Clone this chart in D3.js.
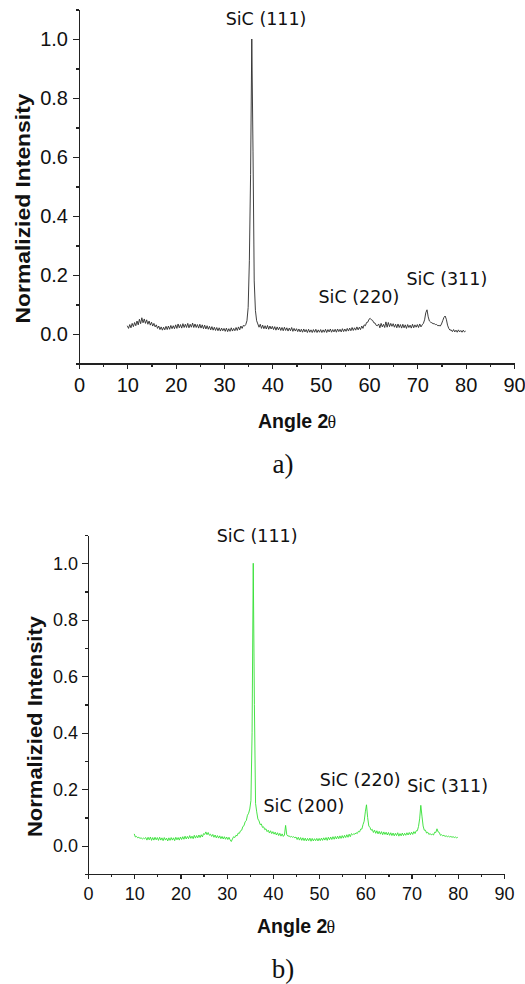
<!DOCTYPE html>
<html>
<head>
<meta charset="utf-8">
<script src="https://cdn.jsdelivr.net/npm/d3@7"></script>
<style>
  body { margin: 0; background: #fff; }
  .axis path, .axis line { stroke: #222; stroke-width: 1.2; shape-rendering: crispEdges; }
  .axis text { fill: #111; font-family: "Liberation Sans", Arial, sans-serif; }
  .peak-label { font-family: "DejaVu Sans", Verdana, sans-serif; fill: #111; }
</style>
</head>
<body>
<svg id="fig" width="525" height="984"></svg>
<script>

// sampling of the scans, degrees 2theta
var angleStart = 10, angleStep = 0.25;

// a) normalized intensity, 10 .. 80 deg, one row per 5 deg
var intensityA = [
  0.028,0.019,0.032,0.021,0.036,0.025,0.039,0.028,0.044,0.031,0.050,0.035,0.055,0.038,0.051,0.036,0.048,0.033,0.044,0.030,
  0.040,0.027,0.036,0.024,0.031,0.019,0.027,0.015,0.024,0.013,0.023,0.014,0.026,0.015,0.027,0.016,0.029,0.018,0.028,0.018,
  0.031,0.019,0.034,0.021,0.032,0.020,0.035,0.022,0.033,0.022,0.036,0.021,0.033,0.023,0.037,0.022,0.034,0.022,0.032,0.020,
  0.033,0.020,0.031,0.018,0.030,0.017,0.028,0.016,0.026,0.014,0.025,0.013,0.023,0.012,0.022,0.011,0.021,0.010,0.020,0.011,
  0.019,0.009,0.020,0.008,0.018,0.009,0.021,0.010,0.019,0.011,0.022,0.012,0.024,0.014,0.027,0.019,0.029,0.027,0.032,0.045,
  0.090,0.250,0.540,1.000,0.620,0.180,0.080,0.045,0.034,0.023,0.033,0.019,0.030,0.018,0.028,0.017,0.029,0.016,0.027,0.017,
  0.026,0.015,0.025,0.013,0.024,0.014,0.023,0.012,0.022,0.011,0.023,0.012,0.021,0.010,0.020,0.011,0.022,0.009,0.019,0.010,
  0.018,0.008,0.017,0.007,0.016,0.006,0.017,0.007,0.015,0.005,0.016,0.006,0.014,0.005,0.015,0.006,0.016,0.005,0.014,0.006,
  0.015,0.005,0.014,0.006,0.016,0.005,0.015,0.007,0.017,0.006,0.015,0.007,0.016,0.006,0.017,0.008,0.016,0.007,0.018,0.008,
  0.017,0.009,0.019,0.010,0.020,0.011,0.022,0.012,0.021,0.013,0.024,0.014,0.023,0.015,0.027,0.019,0.031,0.028,0.039,0.040,
  0.050,0.053,0.048,0.046,0.038,0.037,0.029,0.028,0.034,0.021,0.036,0.024,0.033,0.022,0.041,0.023,0.039,0.025,0.036,0.026,
  0.035,0.023,0.033,0.021,0.034,0.022,0.032,0.020,0.033,0.021,0.031,0.019,0.032,0.022,0.030,0.020,0.033,0.021,0.031,0.023,
  0.032,0.022,0.034,0.024,0.031,0.036,0.048,0.072,0.082,0.058,0.044,0.040,0.038,0.035,0.035,0.032,0.032,0.028,0.029,0.027,
  0.034,0.045,0.056,0.061,0.050,0.030,0.019,0.013,0.014,0.008,0.015,0.007,0.013,0.006,0.014,0.007,0.012,0.006,0.013,0.007,
  0.010
];

// b) normalized intensity, same angles
var intensityB = [
  0.042,0.031,0.033,0.028,0.030,0.026,0.028,0.024,0.027,0.025,0.029,0.020,0.030,0.021,0.031,0.019,0.029,0.020,0.030,0.021,
  0.029,0.019,0.030,0.020,0.028,0.018,0.029,0.020,0.027,0.017,0.028,0.019,0.029,0.020,0.028,0.018,0.030,0.021,0.029,0.020,
  0.031,0.022,0.032,0.023,0.034,0.024,0.033,0.025,0.036,0.026,0.034,0.025,0.037,0.027,0.036,0.028,0.038,0.029,0.039,0.031,
  0.043,0.040,0.049,0.039,0.047,0.037,0.041,0.033,0.040,0.030,0.038,0.028,0.036,0.027,0.035,0.025,0.033,0.024,0.032,0.023,
  0.031,0.022,0.030,0.021,0.015,0.024,0.032,0.029,0.037,0.035,0.045,0.044,0.053,0.055,0.068,0.071,0.085,0.089,0.108,0.115,
  0.130,0.160,0.400,1.000,0.500,0.150,0.120,0.095,0.088,0.075,0.077,0.065,0.067,0.057,0.060,0.050,0.055,0.045,0.053,0.043,
  0.050,0.041,0.048,0.038,0.046,0.036,0.044,0.034,0.042,0.033,0.038,0.072,0.039,0.034,0.035,0.031,0.033,0.030,0.032,0.028,
  0.031,0.022,0.030,0.020,0.029,0.019,0.028,0.018,0.027,0.017,0.026,0.018,0.027,0.016,0.026,0.017,0.025,0.018,0.026,0.017,
  0.026,0.018,0.027,0.019,0.028,0.020,0.029,0.019,0.030,0.021,0.031,0.022,0.032,0.023,0.033,0.024,0.034,0.025,0.035,0.026,
  0.036,0.027,0.037,0.029,0.039,0.030,0.041,0.032,0.043,0.039,0.042,0.041,0.046,0.043,0.051,0.049,0.059,0.059,0.075,0.087,
  0.120,0.145,0.100,0.070,0.065,0.055,0.058,0.047,0.055,0.044,0.053,0.042,0.051,0.041,0.050,0.039,0.049,0.040,0.048,0.038,
  0.047,0.037,0.046,0.036,0.045,0.035,0.044,0.036,0.046,0.034,0.043,0.035,0.045,0.036,0.044,0.037,0.046,0.038,0.047,0.039,
  0.048,0.040,0.050,0.043,0.053,0.053,0.068,0.095,0.143,0.105,0.070,0.055,0.055,0.045,0.048,0.040,0.043,0.039,0.041,0.038,
  0.048,0.047,0.060,0.049,0.047,0.037,0.039,0.035,0.037,0.033,0.035,0.032,0.034,0.031,0.033,0.030,0.032,0.029,0.031,0.028,
  0.030
];

// peak annotations: text, angle of the label centre, intensity at the text baseline
var labelsA = [["SiC (111)", 38.7, 1.048], ["SiC (220)", 57.9, 0.105], ["SiC (311)", 76.1, 0.166]];
var labelsB = [["SiC (111)", 36.6, 1.076], ["SiC (200)", 46.7, 0.120], ["SiC (220)", 58.9, 0.213], ["SiC (311)", 77.8, 0.191]];

// tick values
var xTicks = [0, 10, 20, 30, 40, 50, 60, 70, 80, 90];
var xMinor = [5, 15, 25, 35, 45, 55, 65, 75, 85];
var yTicks = [0.0, 0.2, 0.4, 0.6, 0.8, 1.0];
var yMinor = [-0.1, 0.1, 0.3, 0.5, 0.7, 0.9, 1.1];

var svg = d3.select("#fig");

function makePanel(cfg) {
  var x = d3.scaleLinear().domain([0, 90]).range([cfg.left, cfg.right]);
  var y = d3.scaleLinear().domain([-0.1, 1.1]).range([cfg.bottom, cfg.top]);

  var g = svg.append("g");

  var points = cfg.values.map(function(v, i) { return [angleStart + i * angleStep, v]; });

  var line = d3.line()
      .x(function(d) { return x(d[0]); })
      .y(function(d) { return y(d[1]); });

  g.append("path")
      .datum(points)
      .attr("fill", "none")
      .attr("stroke", cfg.color)
      .attr("stroke-width", 0.9)
      .attr("stroke-linejoin", "round")
      .attr("d", line);

  // minor ticks first, then the labelled axis on top
  g.append("g")
      .attr("class", "axis")
      .attr("transform", "translate(0," + cfg.bottom + ")")
      .call(d3.axisBottom(x).tickValues(xMinor).tickSize(3).tickSizeOuter(0).tickFormat(""));

  g.append("g")
      .attr("class", "axis")
      .attr("transform", "translate(0," + cfg.bottom + ")")
      .call(d3.axisBottom(x).tickValues(xTicks).tickSize(5).tickSizeOuter(0).tickPadding(cfg.xPad))
      .selectAll("text")
      .style("font-size", cfg.tickFont + "px");

  g.append("g")
      .attr("class", "axis")
      .attr("transform", "translate(" + cfg.left + ",0)")
      .call(d3.axisLeft(y).tickValues(yMinor).tickSize(3).tickSizeOuter(0).tickFormat(""));

  g.append("g")
      .attr("class", "axis")
      .attr("transform", "translate(" + cfg.left + ",0)")
      .call(d3.axisLeft(y).tickValues(yTicks).tickSize(6).tickSizeOuter(0).tickPadding(cfg.yPad).tickFormat(d3.format(".1f")))
      .selectAll("text")
      .style("font-size", cfg.tickFont + "px");

  g.selectAll(".peak-label")
      .data(cfg.labels)
    .enter().append("text")
      .attr("class", "peak-label")
      .attr("x", function(d) { return x(d[1]); })
      .attr("y", function(d) { return y(d[2]); })
      .attr("text-anchor", "middle")
      .style("font-size", "17.5px")
      .text(function(d) { return d[0]; });

  // y axis title
  g.append("text")
      .attr("transform", "translate(" + cfg.yTitleX + "," + ((cfg.top + cfg.bottom) / 2 + 22) + ") rotate(-90)")
      .attr("text-anchor", "middle")
      .attr("textLength", cfg.yTitleLen)
      .attr("lengthAdjust", "spacingAndGlyphs")
      .style("font-family", "'Liberation Sans', Arial, sans-serif")
      .style("font-weight", "bold")
      .style("font-size", "20px")
      .attr("fill", "#111")
      .text("Normalizied Intensity");

  // x axis title, theta in the symbol-like serif face
  var xt = g.append("text")
      .attr("x", cfg.xTitleX)
      .attr("y", cfg.xTitleY)
      .attr("fill", "#111")
      .style("font-family", "'Liberation Sans', Arial, sans-serif")
      .style("font-size", "19.5px");
  xt.append("tspan").style("font-weight", "bold").text("Angle 2");
  xt.append("tspan")
      .attr("dx", -1)
      .style("font-family", "'Liberation Serif', 'Times New Roman', serif")
      .style("font-size", "18px")
      .text("\u03b8");

  g.append("text")
      .attr("x", 283)
      .attr("y", cfg.captionY)
      .attr("text-anchor", "middle")
      .attr("fill", "#111")
      .style("font-family", "'Liberation Serif', 'Times New Roman', serif")
      .style("font-size", "27px")
      .text(cfg.caption);
}

makePanel({
  values: intensityA, labels: labelsA, color: "#2a2a2a",
  left: 79, right: 514, top: 9.5, bottom: 363.5,
  tickFont: 20, xPad: 9, yPad: 5,
  yTitleX: 30, yTitleLen: 230,
  xTitleX: 258, xTitleY: 428,
  caption: "a)", captionY: 473
});

makePanel({
  values: intensityB, labels: labelsB, color: "#33e033",
  left: 88, right: 504, top: 535, bottom: 874,
  tickFont: 18, xPad: 8, yPad: 4,
  yTitleX: 41.5, yTitleLen: 221,
  xTitleX: 257, xTitleY: 933,
  caption: "b)", captionY: 978
});

</script>
</body>
</html>
